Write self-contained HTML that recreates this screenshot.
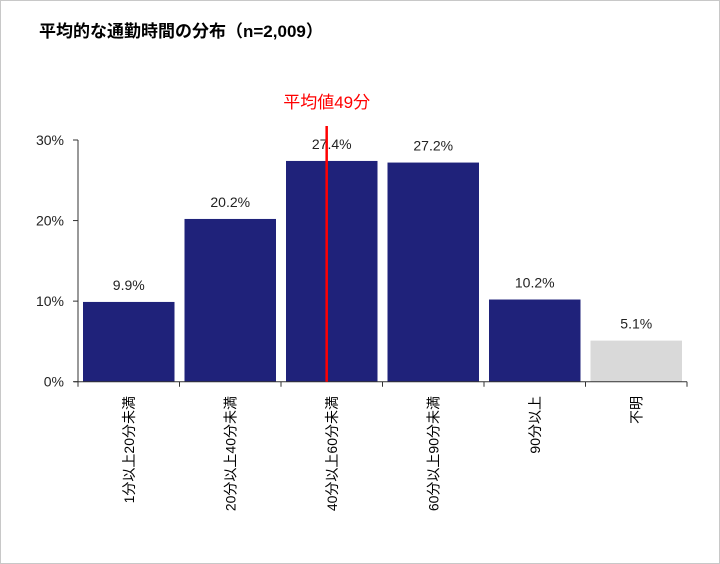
<!DOCTYPE html>
<html><head><meta charset="utf-8">
<style>
body{margin:0;background:#fff;}
#wrap{position:relative;width:718px;height:562px;border:1px solid #c8c8c8;overflow:hidden;font-family:"Liberation Sans","Noto Sans CJK JP",sans-serif;}
#title{position:absolute;left:38px;top:16px;font-size:17px;font-weight:bold;color:#000;}
</style></head>
<body>
<div id="wrap">
<div id="title">平均的な通勤時間の分布（n=2,009）</div>
<svg id="chart" width="718" height="562" style="position:absolute;left:0;top:0"></svg>
</div>
<script>
const categories=["1分以上20分未満","20分以上40分未満","40分以上60分未満","60分以上90分未満","90分以上","不明"];
const values=[9.9,20.2,27.4,27.2,10.2,5.1];
const valueLabels=["9.9%","20.2%","27.4%","27.2%","10.2%","5.1%"];
const yTicks=[0,10,20,30];
const yTickLabels=["0%","10%","20%","30%"];
const meanValue=49;
const meanLabel="平均値49分";
const NS="http://www.w3.org/2000/svg";
const svg=document.getElementById('chart');
const x0=77,x1=686,y0=380.7,yTop=139;
const bw=(x1-x0)/categories.length;
function y(v){return y0-(v/30)*(y0-yTop);}
function xc(i){return x0+bw*(i+0.5);}
function mk(t,a,txt){const e=document.createElementNS(NS,t);for(const k in a)e.setAttribute(k,a[k]);if(txt!=null)e.textContent=txt;svg.appendChild(e);return e;}
values.forEach((v,i)=>{
 const r=mk('rect',{x:x0+bw*i+5,y:y(v),width:bw-10,height:y0-y(v),fill:i===5?'#d9d9d9':'#1f227a'});
 
 
 const t=mk('text',{x:xc(i),y:y(v)-12,'text-anchor':'middle','font-size':14,fill:'#222'},valueLabels[i]);
 
 
 const c=mk('text',{transform:`translate(${xc(i)+5},395) rotate(-90)`,'text-anchor':'end','font-size':14,fill:'#000'},categories[i]);
 
 
});
const ya=mk('line',{x1:x0,y1:yTop,x2:x0,y2:y0,stroke:'#333','stroke-width':1});


const xa=mk('line',{x1:x0-4,y1:y0,x2:x1,y2:y0,stroke:'#333','stroke-width':1});


yTicks.forEach((v,i)=>{
 mk('line',{x1:x0-5,y1:y(v),x2:x0,y2:y(v),stroke:'#333'});
 const t=mk('text',{x:x0-14,y:y(v)+5,'text-anchor':'end','font-size':14,fill:'#222'},yTickLabels[i]);
 
 
});
for(let i=0;i<=categories.length;i++)mk('line',{x1:x0+bw*i,y1:y0,x2:x0+bw*i,y2:y0+5,stroke:'#333'});
// mean line: category 3 covers 40–60 min
const mx=x0+bw*2+bw*((meanValue-40)/20);
const ml=mk('line',{x1:mx,y1:125,x2:mx,y2:y0,stroke:'#ff0000','stroke-width':2.5});


const mt=mk('text',{x:mx,y:107,'text-anchor':'middle','font-size':17,fill:'#ff0000'},meanLabel);


</script>
</body></html>
